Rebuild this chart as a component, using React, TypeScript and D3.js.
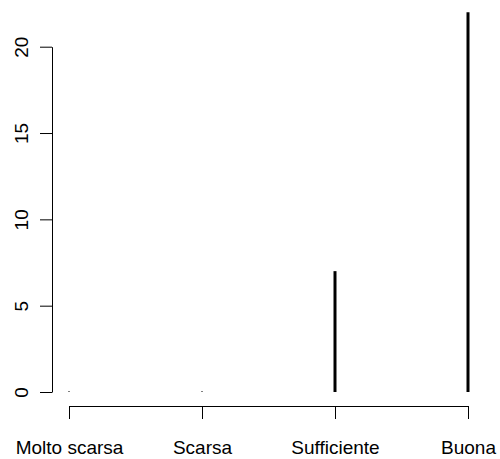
import React, { useEffect, useRef } from 'react';
import * as d3 from 'd3';

const categories = ['Molto scarsa', 'Scarsa', 'Sufficiente', 'Buona'];
const counts = [0, 0, 7, 22];
const yTicks = [0, 5, 10, 15, 20];

function App() {
  const svgRef = useRef<SVGSVGElement>(null);

  useEffect(() => {
    const width = 500;
    const height = 459;
    const svg = d3.select(svgRef.current);
    svg.selectAll('*').remove();
    svg.attr('width', width).attr('height', height);

    const font = 'Liberation Sans, Arial, sans-serif';

    const x = d3.scalePoint<string>()
      .domain(categories)
      .range([69, 468]);

    const y = d3.scaleLinear()
      .domain([0, 20])
      .range([392, 46.7]);

    // bars (type "h")
    svg.selectAll('line.bar')
      .data(categories.map((c, i) => ({ c, v: counts[i] })))
      .enter()
      .append('line')
      .attr('class', 'bar')
      .attr('x1', d => x(d.c)!)
      .attr('x2', d => x(d.c)!)
      .attr('y1', y(0))
      .attr('y2', d => d.v === 0 ? y(0) - 1 : y(d.v))
      .attr('stroke', '#000')
      .attr('stroke-width', d => d.v === 0 ? 1 : 3);

    // left axis
    const left = svg.append('g')
      .attr('transform', 'translate(52,0)')
      .call(d3.axisLeft(y).tickValues(yTicks).tickSize(12).tickSizeOuter(0).tickPadding(0));
    left.select('.domain').attr('stroke', '#000');
    left.selectAll('line').attr('stroke', '#000');
    left.selectAll('text').remove();
    left.selectAll('.tick')
      .append('text')
      .attr('transform', 'translate(-24,0) rotate(-90)')
      .attr('text-anchor', 'middle')
      .attr('fill', '#000')
      .style('font-family', font)
      .style('font-size', '19px')
      .text(d => String(d));

    // bottom axis
    const bottom = svg.append('g')
      .attr('transform', 'translate(0,406)')
      .call(d3.axisBottom(x).tickSize(13).tickSizeOuter(0));
    bottom.select('.domain').attr('stroke', '#000');
    bottom.selectAll('line').attr('stroke', '#000');
    bottom.selectAll('text')
      .attr('y', 48)
      .attr('dy', 0)
      .attr('fill', '#000')
      .style('font-family', font)
      .style('font-size', '19px');
  }, []);

  return (
    <div style={{ position: 'absolute', left: 0, top: 0 }}>
      <svg ref={svgRef} style={{ display: 'block', background: '#fff' }}></svg>
    </div>
  );
}

export default App;
